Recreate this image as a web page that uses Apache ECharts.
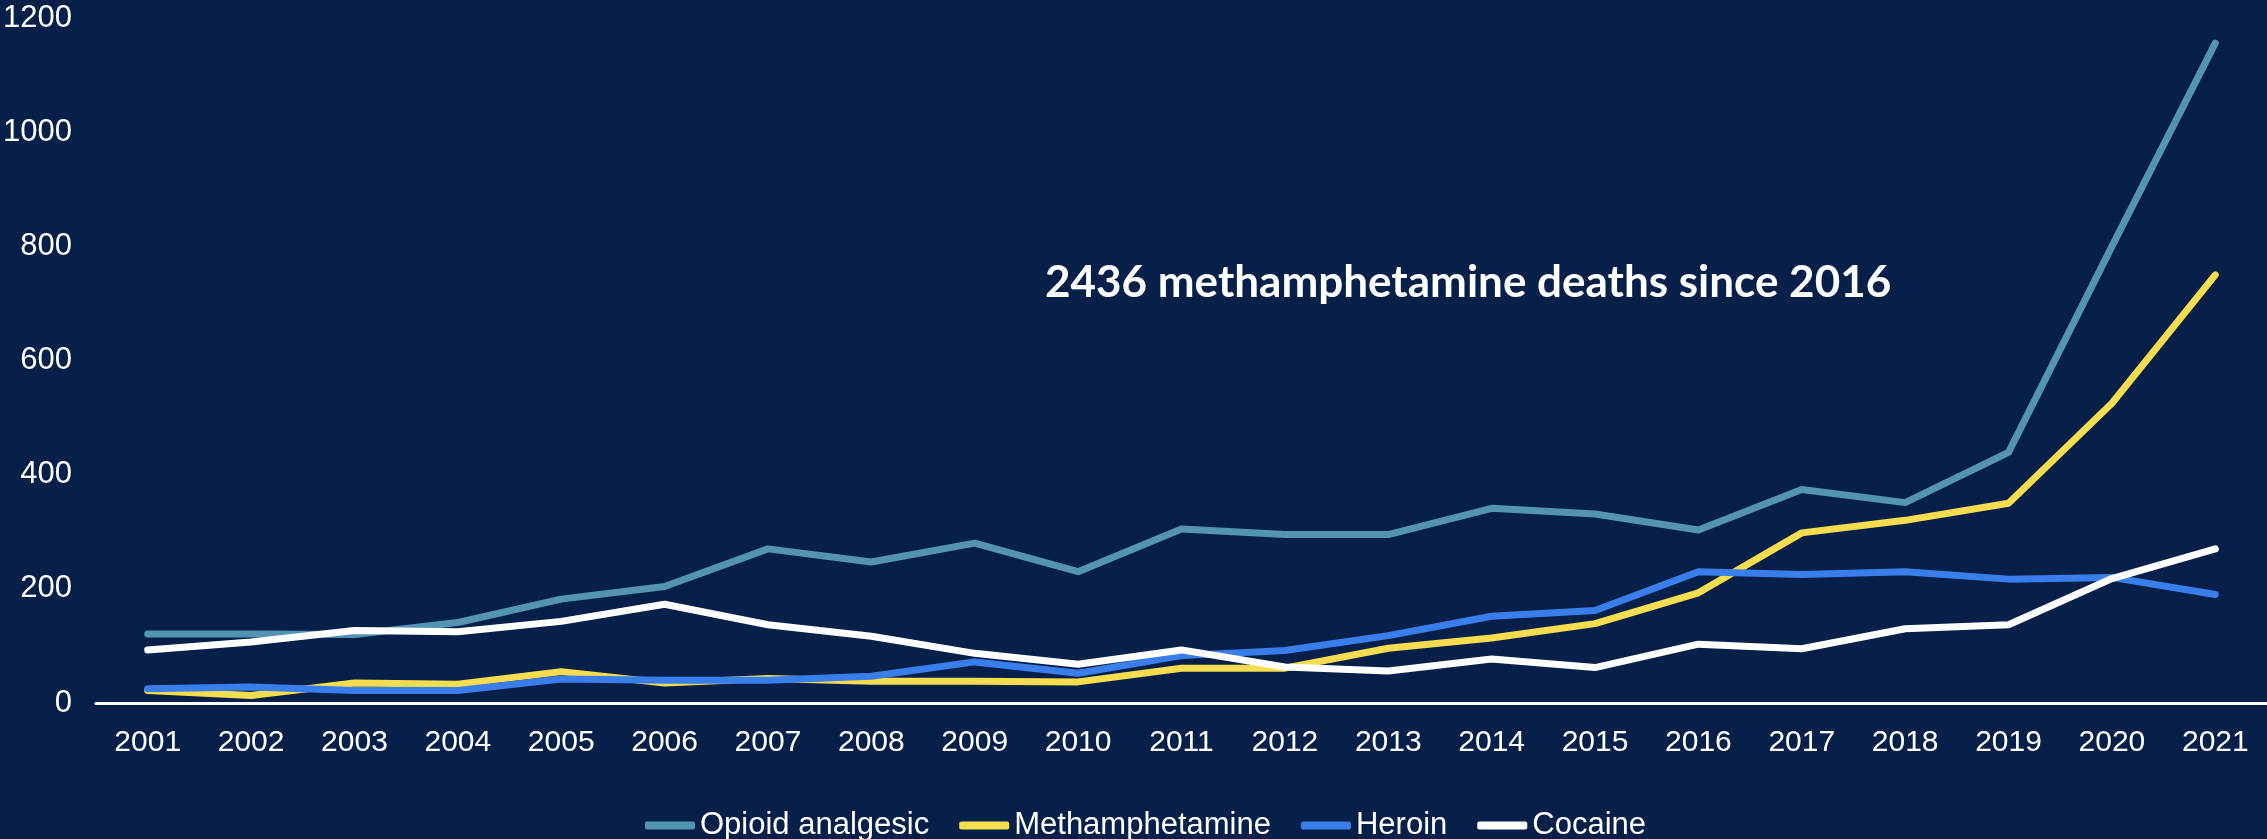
<!DOCTYPE html>
<html>
<head>
<meta charset="utf-8">
<title>Drug deaths by type, 2001–2021</title>
<script src="https://cdn.jsdelivr.net/npm/echarts@6/dist/echarts.min.js"></script>
<style>
  html, body { margin: 0; padding: 0; background: #06204a; }
  #chart { width: 2267px; height: 839px; }
</style>
</head>
<body>
<div id="chart"></div>
<script>
// Years on the category axis
const years = ['2001','2002','2003','2004','2005','2006','2007','2008','2009','2010','2011',
               '2012','2013','2014','2015','2016','2017','2018','2019','2020','2021'];

// Deaths per year by drug
const opioidAnalgesic = [121,121,120,141,182,204,270,247,280,230,305,295,295,341,331,303,374,351,439,800,1156];
const methamphetamine = [22,13,35,33,55,35,43,38,38,37,61,61,96,114,139,193,298,320,350,525,750];
const heroin          = [25,28,22,22,42,40,40,47,72,52,83,92,118,152,162,230,225,230,217,220,190];
const cocaine         = [93,107,127,125,143,173,137,117,87,68,93,63,56,77,62,103,95,130,137,218,270];

const seriesNames  = ['Opioid analgesic', 'Methamphetamine', 'Heroin', 'Cocaine'];
const seriesColors = ['#5394b3', '#f6dd50', '#3a7eec', '#ffffff'];
const seriesData   = [opioidAnalgesic, methamphetamine, heroin, cocaine];

// Y axis ticks
const yMin = 0, yMax = 1200, yStep = 200;

const annotation = '2436 methamphetamine deaths since 2016';

const labelFont = "'Liberation Sans', Arial, sans-serif";

const chart = echarts.init(document.getElementById('chart'), null, { renderer: 'canvas' });

chart.setOption({
  backgroundColor: '#06204a',
  animation: false,
  grid: { left: 96, right: 0, top: 18, bottom: 136 },
  xAxis: {
    type: 'category',
    data: years,
    boundaryGap: true,
    axisLine: { show: true, lineStyle: { color: '#ffffff', width: 3 } },
    axisTick: { show: false },
    axisLabel: { color: '#ffffff', fontSize: 30, fontFamily: labelFont, margin: 25 },
    splitLine: { show: false }
  },
  yAxis: {
    type: 'value',
    min: yMin, max: yMax, interval: yStep,
    axisLine: { show: false },
    axisTick: { show: false },
    splitLine: { show: false },
    axisLabel: {
      color: '#ffffff', fontSize: 31, fontFamily: labelFont, margin: 24,
      formatter: (v) => String(v)
    }
  },
  legend: {
    left: 640,
    top: 805,
    icon: 'roundRect',
    itemWidth: 50,
    itemHeight: 8,
    itemGap: 30,
    textStyle: { color: '#ffffff', fontSize: 31, fontFamily: labelFont },
    data: seriesNames
  },
  graphic: [{
    type: 'text',
    left: 1045,
    top: 261,
    style: {
      text: annotation,
      fill: '#ffffff',
      font: "bold 44px Lato, 'Open Sans', sans-serif"
    }
  }],
  series: seriesNames.map((name, i) => ({
    name: name,
    type: 'line',
    data: seriesData[i],
    showSymbol: false,
    symbol: 'none',
    color: seriesColors[i],
    lineStyle: { color: seriesColors[i], width: 7, cap: 'round', join: 'round' },
    emphasis: { disabled: true }
  }))
});
</script>
</body>
</html>
